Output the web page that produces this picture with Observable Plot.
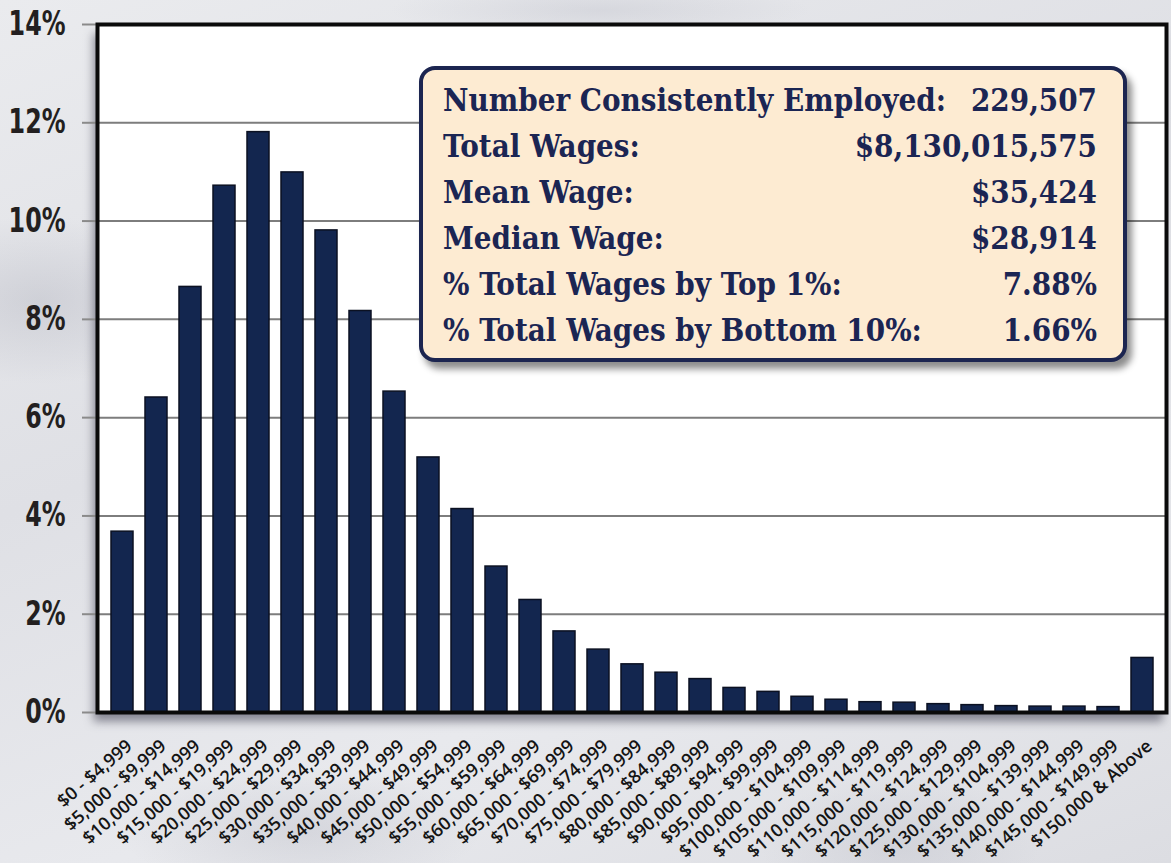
<!DOCTYPE html>
<html>
<head>
<meta charset="utf-8">
<script src="https://cdn.jsdelivr.net/npm/d3@7"></script>
<script src="https://cdn.jsdelivr.net/npm/@observablehq/plot@0.6"></script>
<style>
  html, body { margin: 0; padding: 0; }
  body {
    width: 1171px; height: 863px; overflow: hidden; position: relative;
    background:
      radial-gradient(ellipse 220px 120px at 40px 300px, rgba(160,162,175,0.30), transparent 70%),
      radial-gradient(ellipse 260px 90px at 300px 830px, rgba(160,162,175,0.25), transparent 70%),
      radial-gradient(ellipse 200px 100px at 900px 845px, rgba(170,172,185,0.25), transparent 70%),
      radial-gradient(ellipse 300px 40px at 600px 10px, rgba(170,172,185,0.25), transparent 70%),
      linear-gradient(160deg, #eaebee 0%, #dfe0e5 40%, #e8e9ed 70%, #dcdde2 100%);
  }
  #chart { position: absolute; left: 0; top: 0; }
  #stats {
    position: absolute; left: 419px; top: 66px; width: 654px; height: 281px;
    border: 4px solid #1c2550; border-radius: 16px; background: #fdebd2;
    box-shadow: 5px 7px 7px rgba(0,0,0,0.45);
    padding: 7px 26px 0 20px; box-sizing: content-box;
    font-family: "DejaVu Serif Condensed", "DejaVu Serif", serif; font-stretch: condensed;
    font-weight: bold; color: #1b2553; font-size: 27px;
  }
  #stats .row { display: flex; justify-content: space-between; height: 46px; line-height: 46px; white-space: nowrap; }
</style>
</head>
<body>
<div id="chart"></div>
<div id="stats"></div>
<script>
// ---- data ----
const categories = [
  "$0 - $4,999", "$5,000 - $9,999", "$10,000 - $14,999", "$15,000 - $19,999",
  "$20,000 - $24,999", "$25,000 - $29,999", "$30,000 - $34,999", "$35,000 - $39,999",
  "$40,000 - $44,999", "$45,000 - $49,999", "$50,000 - $54,999", "$55,000 - $59,999",
  "$60,000 - $64,999", "$65,000 - $69,999", "$70,000 - $74,999", "$75,000 - $79,999",
  "$80,000 - $84,999", "$85,000 - $89,999", "$90,000 - $94,999", "$95,000 - $99,999",
  "$100,000 - $104,999", "$105,000 - $109,999", "$110,000 - $114,999", "$115,000 - $119,999",
  "$120,000 - $124,999", "$125,000 - $129,999", "$130,000 - $104,999", "$135,000 - $139,999",
  "$140,000 - $144,999", "$145,000 - $149,999", "$150,000 & Above"
];
const shares = [
  3.68, 6.41, 8.66, 10.72, 11.81, 10.99, 9.81, 8.17,
  6.53, 5.19, 4.14, 2.97, 2.29, 1.65, 1.28, 0.98,
  0.81, 0.68, 0.50, 0.42, 0.32, 0.26, 0.21, 0.20,
  0.17, 0.15, 0.13, 0.12, 0.12, 0.11, 1.11
];
const yTicks = [0, 2, 4, 6, 8, 10, 12, 14];
const statLabels = [
  "Number Consistently Employed:", "Total Wages:", "Mean Wage:",
  "Median Wage:", "% Total Wages by Top 1%:", "% Total Wages by Bottom 10%:"
];
const statValues = ["229,507", "$8,130,015,575", "$35,424", "$28,914", "7.88%", "1.66%"];

const rows = categories.map((c, i) => ({category: c, share: shares[i]}));

const chart = Plot.plot({
  width: 1171,
  height: 863,
  marginLeft: 97,
  marginRight: 5,
  marginTop: 24,
  marginBottom: 151,
  style: {background: "transparent", overflow: "visible"},
  x: {domain: categories, paddingInner: 0.36, paddingOuter: 0.23, axis: null, label: null},
  y: {domain: [0, 14], axis: null, label: null},
  marks: [
    Plot.frame({fill: "white", stroke: "none"}),
    Plot.gridY(yTicks.filter(t => t > 0 && t < 14), {stroke: "#7d7d7d", strokeWidth: 2, strokeOpacity: 1}),
    Plot.axisY({
      ticks: yTicks, tickSize: 15, tickPadding: 17, tickFormat: d => d + "%", label: null,
      stroke: "#8a8a8a", strokeWidth: 2, fill: "#231f20",
      fontSize: 33, fontWeight: "bold", fontFamily: "'Liberation Sans Narrow', 'DejaVu Sans Condensed', sans-serif"
    }),
    Plot.barY(rows, {x: "category", y: "share", fill: "#13264f", stroke: "#0b1122", strokeWidth: 1.5}),
    Plot.frame({stroke: "#0a0a0a", strokeWidth: 4}),
    Plot.axisX({
      tickSize: 0, tickPadding: 31, tickRotate: -41, textAnchor: "end", lineAnchor: "middle", dx: 7, label: null,
      fill: "#141414", fontSize: 18, fontWeight: 600, fontFamily: "'Open Sans', sans-serif"
    })
  ]
});
document.getElementById("chart").appendChild(chart);

// soft shadow behind the plotting area
const frames = chart.querySelectorAll('[aria-label="frame"]');
if (frames.length) frames[0].style.filter = "drop-shadow(-4px 9px 5px rgba(40,40,60,0.5))";

// condense the y tick labels like the reference's narrow bold face
chart.querySelectorAll('[aria-label="y-axis tick label"] text').forEach(t => {
  const len = t.getComputedTextLength();
  t.setAttribute("textLength", (len * 0.8).toFixed(1));
  t.setAttribute("lengthAdjust", "spacingAndGlyphs");
});

// statistics box
const box = document.getElementById("stats");
statLabels.forEach((l, i) => {
  const r = document.createElement("div");
  r.className = "row";
  const a = document.createElement("span"); a.textContent = l;
  const b = document.createElement("span"); b.textContent = statValues[i];
  r.appendChild(a); r.appendChild(b);
  box.appendChild(r);
});
const first = box.querySelector(".row span");
const w = first.getBoundingClientRect().width;
box.style.fontSize = (27 * 503 / w).toFixed(2) + "px";
</script>
</body>
</html>
